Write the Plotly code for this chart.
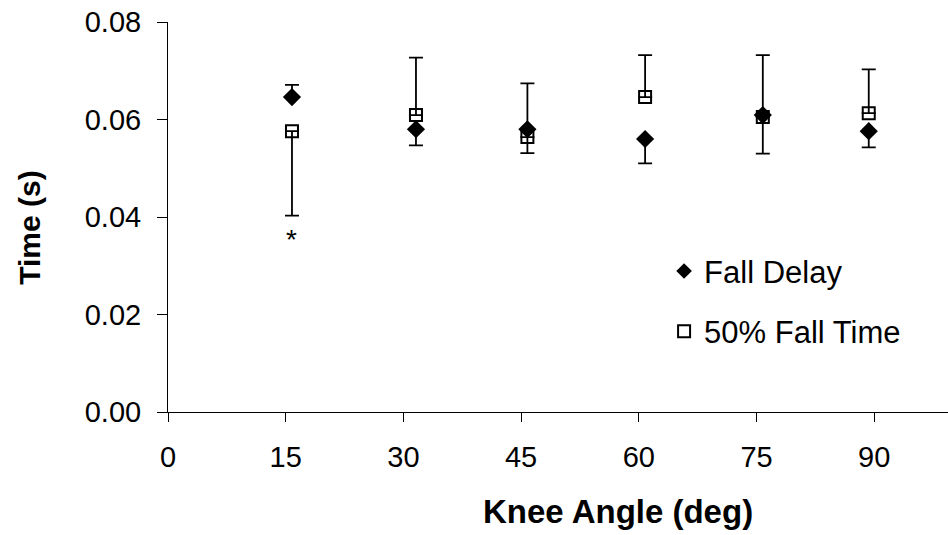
import plotly.graph_objects as go

# Knee angle at which each trial set was recorded (deg)
knee_angle = [15.8, 31.6, 45.8, 60.8, 75.8, 89.3]

# Fall delay (s) with one-sided error bars
fall_delay = [0.0646, 0.0580, 0.0580, 0.0560, 0.0609, 0.0576]
fall_delay_err_plus = [0.0025, 0, 0, 0, 0, 0]
fall_delay_err_minus = [0, 0.0033, 0.0049, 0.0050, 0.0079, 0.0033]

# 50% fall time (s) with one-sided error bars
fall_time_50 = [0.0576, 0.0609, 0.0564, 0.0646, 0.0605, 0.0613]
fall_time_err_plus = [0, 0.0118, 0.0110, 0.0086, 0.0127, 0.0090]
fall_time_err_minus = [0.0173, 0, 0, 0, 0, 0]

x_ticks = [0, 15, 30, 45, 60, 75, 90]
y_ticks = [0.00, 0.02, 0.04, 0.06, 0.08]

FONT = "Arial, Liberation Sans, sans-serif"

fig = go.Figure()

fig.add_trace(go.Scatter(
    x=knee_angle, y=fall_delay, mode="markers", name="Fall Delay",
    legendgroup="a",
    marker=dict(symbol="diamond", size=14, color="black"),
    error_y=dict(type="data", symmetric=False,
                 array=fall_delay_err_plus, arrayminus=fall_delay_err_minus,
                 color="black", thickness=1.8, width=7),
))

fig.add_trace(go.Scatter(
    x=knee_angle, y=fall_time_50, mode="markers", name="50% Fall Time",
    legendgroup="b",
    marker=dict(symbol="square-open", size=12, color="black",
                line=dict(width=2, color="black")),
    error_y=dict(type="data", symmetric=False,
                 array=fall_time_err_plus, arrayminus=fall_time_err_minus,
                 color="black", thickness=1.8, width=7),
))

# significance marker under the 15 deg point
fig.add_annotation(x=knee_angle[0], y=0.0353, text="*", showarrow=False,
                   font=dict(family=FONT, size=28, color="black"),
                   xanchor="center", yanchor="middle")

# axis titles
fig.add_annotation(x=0.577, y=-0.256, xref="paper", yref="paper",
                   text="<b>Knee Angle (deg)</b>", showarrow=False,
                   xanchor="center", yanchor="middle",
                   font=dict(family=FONT, size=33, color="black"))
fig.add_annotation(x=-0.177, y=0.472, xref="paper", yref="paper",
                   text="<b>Time (s)</b>", showarrow=False, textangle=-90,
                   xanchor="center", yanchor="middle",
                   font=dict(family=FONT, size=30, color="black"))

fig.update_layout(
    width=948, height=535,
    margin=dict(l=168, r=0, t=22, b=123),
    paper_bgcolor="white", plot_bgcolor="white",
    font=dict(family=FONT, size=29, color="black"),
    legend=dict(x=0.636, y=0.43, xanchor="left", yanchor="top",
                font=dict(family=FONT, size=31, color="black"),
                bgcolor="rgba(0,0,0,0)", borderwidth=0,
                tracegroupgap=17, itemsizing="constant"),
    showlegend=True,
)

fig.update_xaxes(
    range=[0, 99.4], tickvals=x_ticks, ticks="outside", ticklen=9,
    tickcolor="black", tickwidth=1, showline=True, linecolor="black",
    linewidth=1, showgrid=False, zeroline=False, ticklabelstandoff=10,
    tickfont=dict(family=FONT, size=29, color="black"),
)

fig.update_yaxes(
    range=[0, 0.08], tickvals=y_ticks, tickformat=".2f", ticks="outside",
    ticklen=10, tickcolor="black", tickwidth=1, showline=True,
    linecolor="black", linewidth=1, showgrid=False, zeroline=False,
    ticklabelstandoff=10,
    tickfont=dict(family=FONT, size=29, color="black"),
)

fig.write_html("out.html")
